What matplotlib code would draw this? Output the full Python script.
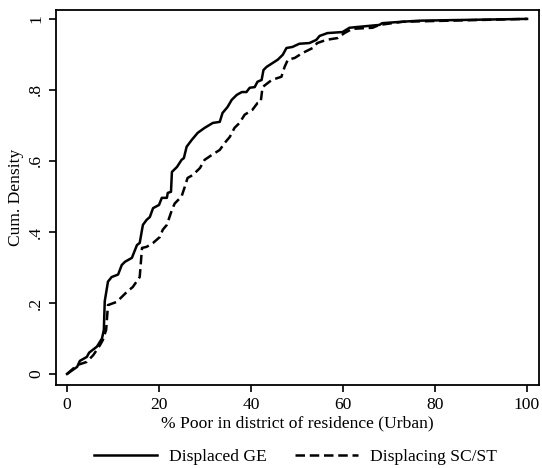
import matplotlib
matplotlib.use('Agg')
import matplotlib.pyplot as plt

# Displaced GE (solid)
ge_x = [0, 2.2, 2.8, 4.3, 4.8, 6.5, 7.6, 8.0, 8.2, 8.9, 9.7, 11.1, 11.9, 12.6, 14.1,
        15.2, 15.8, 16.3, 16.5, 17.3, 18.0, 18.7, 20.0, 20.6, 21.7, 21.9, 22.6, 22.8,
        23.9, 24.9, 25.4, 26.0, 27.1, 28.4, 29.9, 31.7, 33.2, 33.8, 34.9, 35.8, 36.9,
        38.0, 39.0, 39.7, 40.8, 41.4, 42.3, 42.7, 43.4, 44.0, 45.8, 46.9, 47.7, 49.0,
        50.5, 52.7, 54.2, 54.9, 56.6, 59.9, 61.4, 62.9, 67.9, 68.5, 72.9, 76.6, 100]
ge_y = [0, 0.02, 0.037, 0.048, 0.06, 0.077, 0.10, 0.124, 0.205, 0.26, 0.273, 0.28, 0.307,
        0.316, 0.327, 0.363, 0.369, 0.406, 0.42, 0.434, 0.442, 0.467, 0.476, 0.496, 0.496,
        0.51, 0.513, 0.569, 0.583, 0.603, 0.608, 0.64, 0.659, 0.679, 0.693, 0.707, 0.71,
        0.735, 0.752, 0.772, 0.786, 0.794, 0.794, 0.806, 0.808, 0.823, 0.828, 0.856,
        0.865, 0.87, 0.885, 0.899, 0.918, 0.921, 0.93, 0.932, 0.941, 0.952, 0.96, 0.963,
        0.975, 0.977, 0.983, 0.988, 0.992, 0.995, 1.0]

# Displacing SC/ST (dashed)
sc_x = [0, 2.2, 4.3, 5.7, 7.2, 7.8, 8.5, 8.9, 10.8, 11.9, 13.0, 14.3, 15.8, 16.3, 17.3,
        18.7, 20.2, 20.8, 21.7, 22.8, 23.4, 24.9, 25.6, 26.2, 27.3, 28.9, 29.9, 31.5,
        33.2, 34.3, 35.4, 36.4, 37.5, 38.6, 40.3, 41.4, 42.1, 42.5, 44.5, 46.6, 47.3,
        48.0, 49.5, 51.2, 53.4, 54.4, 56.4, 58.8, 60.3, 62.0, 66.4, 67.9, 73.0, 100]
sc_y = [0, 0.025, 0.034, 0.053, 0.082, 0.096, 0.124, 0.194, 0.203, 0.217, 0.231, 0.245,
        0.273, 0.355, 0.358, 0.369, 0.386, 0.406, 0.42, 0.462, 0.48, 0.5, 0.527, 0.552,
        0.56, 0.58, 0.603, 0.617, 0.631, 0.651, 0.668, 0.693, 0.707, 0.73, 0.744, 0.763,
        0.766, 0.808, 0.828, 0.837, 0.865, 0.885, 0.89, 0.904, 0.918, 0.932, 0.941,
        0.946, 0.96, 0.972, 0.975, 0.983, 0.992, 1.0]

x_ticks = [0, 20, 40, 60, 80, 100]
y_ticks = [0, 0.2, 0.4, 0.6, 0.8, 1.0]
y_tick_labels = ['0', '.2', '.4', '.6', '.8', '1']

plt.rcParams['font.family'] = ['Liberation Serif', 'DejaVu Serif']
plt.rcParams['font.size'] = 12.6

fig = plt.figure(figsize=(5.42, 4.68), dpi=100)
ax = fig.add_axes([0.1033, 0.1774, 0.8912, 0.8012])

ax.plot(ge_x, ge_y, color='black', lw=1.8, label='Displaced GE')
ax.plot(sc_x, sc_y, color='black', lw=1.8, linestyle=(0, (3.8, 1.9)),
        label='Displacing SC/ST')

ax.set_xlim(-2.4, 102.6)
ax.set_ylim(-0.031, 1.025)
ax.set_xticks(x_ticks)
ax.set_yticks(y_ticks)
ax.set_yticklabels(y_tick_labels, rotation=90, va='center')
ax.tick_params(direction='out', length=5, width=1.2, colors='black')
for s in ax.spines.values():
    s.set_linewidth(1.3)

ax.set_xlabel('% Poor in district of residence (Urban)', labelpad=2)
ax.set_ylabel('Cum. Density', labelpad=3)

fig.legend(loc='lower center', ncol=2, frameon=False, handlelength=3.6,
           handletextpad=0.7, columnspacing=1.6, bbox_to_anchor=(0.545, -0.027))

fig.savefig('out.png', dpi=100)
